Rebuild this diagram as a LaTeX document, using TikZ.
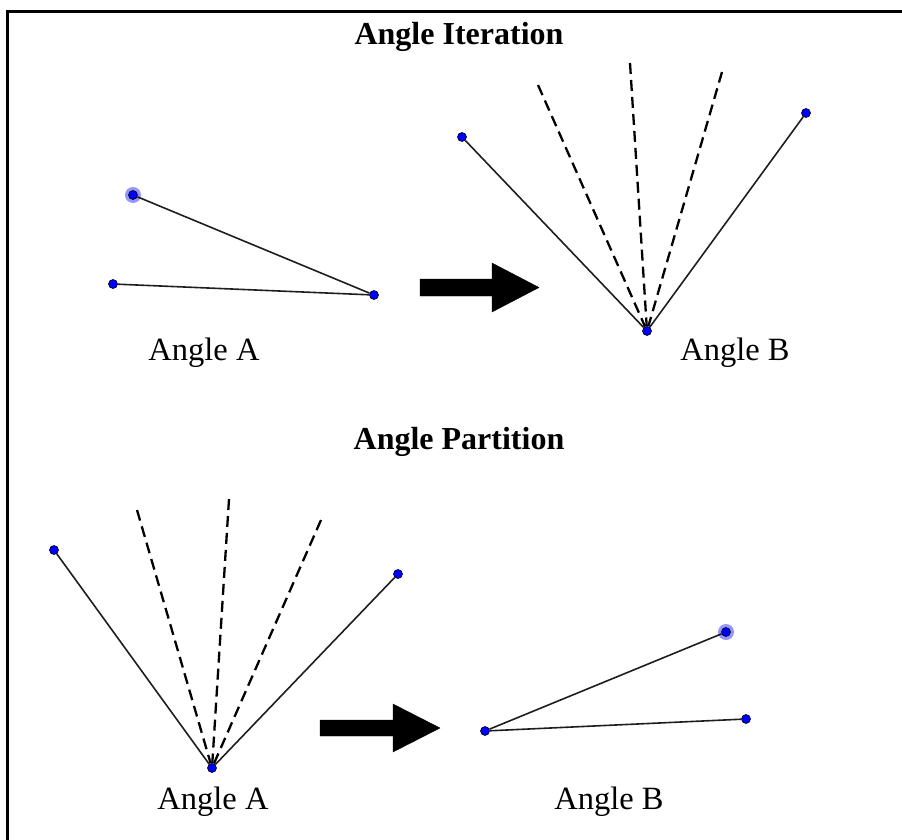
\documentclass[tikz,border=0pt]{standalone}
\usepackage{fontspec}
\setmainfont{Liberation Serif}
\definecolor{halocol}{RGB}{150,150,250}
\definecolor{segcol}{RGB}{30,30,30}
\begin{document}
\begin{tikzpicture}[x=1pt,y=-1pt,
  dot/.style={circle,fill=blue,draw=black,line width=0.6pt,inner sep=0pt,minimum size=9pt},
  halo/.style={circle,fill=halocol,inner sep=0pt,minimum size=16pt},
  seg/.style={line width=1.6pt,draw=segcol},
  dsh/.style={line width=2.3pt,draw=black,dash pattern=on 11pt off 6pt},
  lbl/.style={font=\fontsize{32.5}{38}\selectfont},
  ttl/.style={font=\fontsize{32}{38}\selectfont\bfseries},
  bigarrow/.style={fill=black}]
\useasboundingbox (0,0) rectangle (902,840);
\draw[line width=3pt] (7,850) -- (7,12) -- (910,12);

% titles
\node[ttl] (t1) at (459,37) {Angle Iteration};
\node[ttl] (t2) at (459,442) {Angle Partition};

% ---------- top: Angle A ----------
\node[halo] (h1) at (133,195) {};
\node[dot] (a1p) at (133,195) {};
\node[dot] (a1q) at (113,284) {};
\node[dot] (a1v) at (374,295) {};
\draw[seg] (a1p) -- (a1v);
\draw[seg] (a1q) -- (a1v);
\node[lbl] (la1) at (204,353) {Angle A};

% top arrow
\draw[bigarrow] (420,279) -- (492,279) -- (492,263) -- (539,287.5) -- (492,312) -- (492,296) -- (420,296) -- cycle;

% ---------- top: Angle B ----------
\node[dot] (b1v) at (647,331) {};
\node[dot] (b1l) at (462,137) {};
\node[dot] (b1r) at (806,113) {};
\coordinate (b1d1) at (538,85);
\coordinate (b1d2) at (630,63);
\coordinate (b1d3) at (722,72);
\draw[seg] (b1l) -- (b1v);
\draw[seg] (b1r) -- (b1v);
\draw[dsh] (b1d1) -- (b1v);
\draw[dsh] (b1d2) -- (b1v);
\draw[dsh] (b1d3) -- (b1v);
\node[lbl] (lb1) at (735,353) {Angle B};

% ---------- bottom: Angle A ----------
\node[dot] (a2v) at (212,768) {};
\node[dot] (a2l) at (54,550) {};
\node[dot] (a2r) at (398,574) {};
\coordinate (a2d1) at (137,510);
\coordinate (a2d2) at (229,499);
\coordinate (a2d3) at (321,520);
\draw[seg] (a2l) -- (a2v);
\draw[seg] (a2r) -- (a2v);
\draw[dsh] (a2d1) -- (a2v);
\draw[dsh] (a2d2) -- (a2v);
\draw[dsh] (a2d3) -- (a2v);
\node[lbl] (la2) at (213,802) {Angle A};

% bottom arrow
\draw[bigarrow] (320,720) -- (393,720) -- (393,704) -- (440,728) -- (393,752) -- (393,736) -- (320,736) -- cycle;

% ---------- bottom: Angle B ----------
\node[halo] (h2) at (726,632) {};
\node[dot] (b2p) at (726,632) {};
\node[dot] (b2v) at (485,731) {};
\node[dot] (b2q) at (746,719) {};
\draw[seg] (b2p) -- (b2v);
\draw[seg] (b2q) -- (b2v);
\node[lbl] (lb2) at (609,802) {Angle B};
\end{tikzpicture}
\end{document}
